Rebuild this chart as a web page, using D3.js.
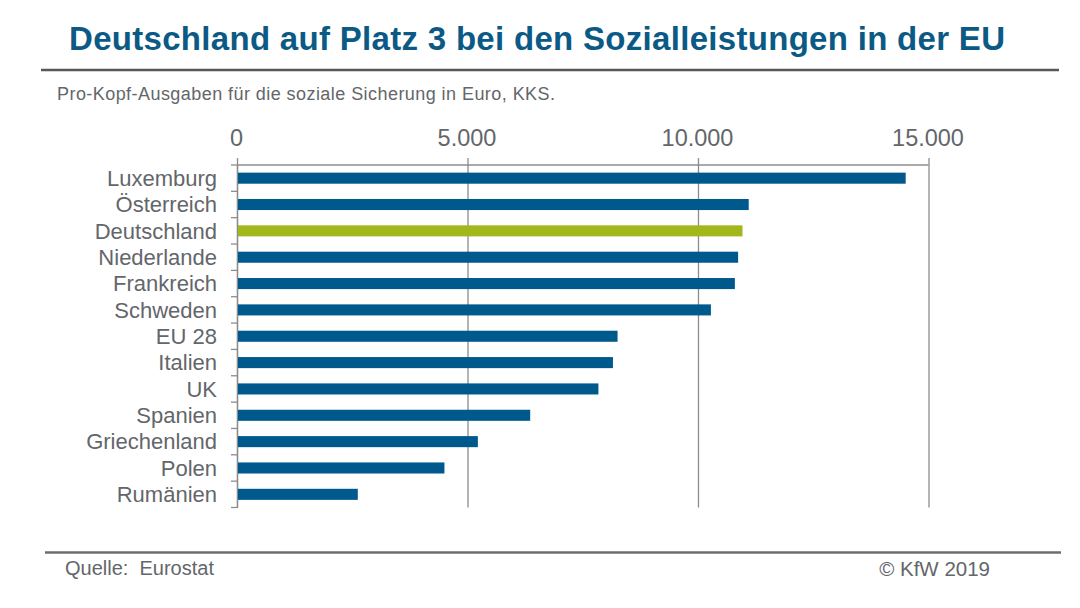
<!DOCTYPE html>
<html lang="de">
<head>
  <meta charset="utf-8">
  <title>Sozialleistungen in der EU</title>
  <script src="https://d3js.org/d3.v7.min.js"></script>
  <style>
    html, body { margin: 0; background: #fff; }
    svg { display: block; font-family: "Liberation Sans", Arial, sans-serif; }
    .tick text { fill: #63666a; }
  </style>
</head>
<body>
<script>
// values
var countries = ["Luxemburg", "Österreich", "Deutschland", "Niederlande", "Frankreich", "Schweden",
  "EU 28", "Italien", "UK", "Spanien", "Griechenland", "Polen", "Rumänien"];
var spending = [14505, 11100, 10965, 10870, 10800, 10280, 8255, 8155, 7840, 6360, 5225, 4500, 2620];
var xTicks = [0, 5000, 10000, 15000];
var xTickLabels = ["0", "5.000", "10.000", "15.000"];
var highlight = "Deutschland";

var width = 1080;
var height = 608;
var gridColor = "#8c8c8c";

var svg = d3.select("body").append("svg")
  .attr("width", width)
  .attr("height", height);

var x = d3.scaleLinear().domain([0, 15000]).range([237, 928.5]);
var y = d3.scaleBand().domain(countries).range([165, 507.5]).paddingInner(0.58).paddingOuter(0.29);

// top axis, ticks run down as grid lines
var xAxis = d3.axisTop(x)
  .tickValues(xTicks)
  .tickFormat(function(d, i) { return xTickLabels[i]; })
  .tickSize(7)
  .tickPadding(12);

var xg = svg.append("g")
  .attr("transform", "translate(0,165)")
  .call(xAxis);
xg.select(".domain").remove();
xg.selectAll(".tick line").attr("y2", 507.5 - 165).attr("y1", -7).attr("stroke", gridColor).attr("stroke-width", 1.3);
xg.selectAll(".tick text").attr("font-size", 23.5).attr("font-family", "Liberation Sans").attr("dx", -1);

// horizontal line along the top
svg.append("line")
  .attr("x1", x(0)).attr("x2", x(15000))
  .attr("y1", 165).attr("y2", 165)
  .attr("stroke", gridColor).attr("stroke-width", 1.3);

// left axis: labels centred on the bands, ticks between the bands
var yAxis = d3.axisLeft(y).tickSize(0).tickPadding(20);
var yg = svg.append("g")
  .attr("transform", "translate(" + x(0) + ",0)")
  .call(yAxis);
yg.select(".domain").attr("stroke", gridColor).attr("stroke-width", 1.3);
yg.selectAll(".tick text").attr("font-size", 22).attr("font-family", "Liberation Sans").attr("dy", "0.35em");

svg.append("g").selectAll("line")
  .data(d3.range(countries.length + 1))
  .enter()
  .append("line")
  .attr("x1", x(0) - 6).attr("x2", x(0))
  .attr("y1", function(i) { return y.range()[0] + i * y.step(); })
  .attr("y2", function(i) { return y.range()[0] + i * y.step(); })
  .attr("stroke", gridColor).attr("stroke-width", 1.3);

// bars
svg.append("g").selectAll("rect")
  .data(countries)
  .enter()
  .append("rect")
  .attr("x", x(0) + 1)
  .attr("y", function(d) { return y(d); })
  .attr("width", function(d, i) { return x(spending[i]) - x(0) - 1; })
  .attr("height", y.bandwidth())
  .attr("fill", function(d) { return d === highlight ? "#a2b71c" : "#00598c"; });

// title, subtitle and footer
svg.append("text")
  .attr("x", 69).attr("y", 50)
  .attr("font-size", 33).attr("font-weight", "bold").attr("fill", "#0b5a85")
  .attr("textLength", 936)
  .text("Deutschland auf Platz 3 bei den Sozialleistungen in der EU");

svg.append("line")
  .attr("x1", 41).attr("x2", 1059).attr("y1", 70).attr("y2", 70)
  .attr("stroke", "#55595c").attr("stroke-width", 2.5);

svg.append("text")
  .attr("x", 57).attr("y", 100)
  .attr("font-size", 18).attr("fill", "#63666a")
  .attr("textLength", 498)
  .text("Pro-Kopf-Ausgaben für die soziale Sicherung in Euro, KKS.");

svg.append("line")
  .attr("x1", 45).attr("x2", 1061).attr("y1", 552.5).attr("y2", 552.5)
  .attr("stroke", "#6b6e70").attr("stroke-width", 2.5);

svg.append("text")
  .attr("x", 65).attr("y", 575)
  .attr("font-size", 20).attr("fill", "#63666a")
  .attr("xml:space", "preserve")
  .text("Quelle:  Eurostat");

svg.append("text")
  .attr("x", 990).attr("y", 576)
  .attr("text-anchor", "end")
  .attr("font-size", 20.5).attr("fill", "#63666a")
  .text("© KfW 2019");
</script>
</body>
</html>
